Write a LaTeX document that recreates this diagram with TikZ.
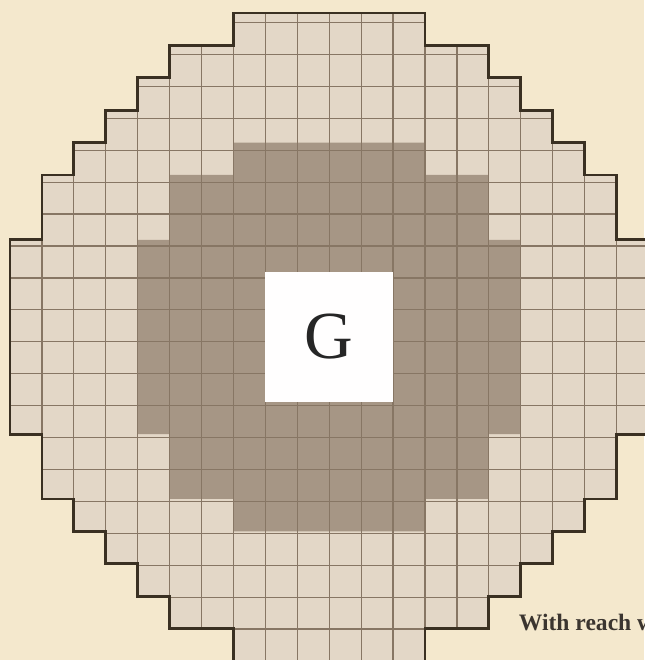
\documentclass[tikz,border=0pt]{standalone}
\usepackage{fontspec}
\setmainfont{Liberation Serif}

\definecolor{paper}{HTML}{F4E8CD}
\definecolor{lightcell}{HTML}{E3D7C7}
\definecolor{darkcell}{HTML}{A69685}
\definecolor{gridline}{HTML}{877664}
\definecolor{rimline}{HTML}{3A3022}
\definecolor{captext}{HTML}{3B3530}

% outline of the reach area, one unit per square
\newcommand{\reacharea}{(7,20) -- (13,20) -- (13,19) -- (15,19) -- (15,18) -- (16,18) -- (16,17) -- (17,17)
  -- (17,16) -- (18,16) -- (18,15) -- (19,15) -- (19,13) -- (20,13) -- (20,7) -- (19,7) -- (19,5)
  -- (18,5) -- (18,4) -- (17,4) -- (17,3) -- (16,3) -- (16,2) -- (15,2) -- (15,1) -- (13,1) -- (13,0)
  -- (7,0) -- (7,1) -- (5,1) -- (5,2) -- (4,2) -- (4,3) -- (3,3) -- (3,4) -- (2,4) -- (2,5) -- (1,5)
  -- (1,7) -- (0,7) -- (0,13) -- (1,13) -- (1,15) -- (2,15) -- (2,16) -- (3,16) -- (3,17) -- (4,17)
  -- (4,18) -- (5,18) -- (5,19) -- (7,19) -- cycle}

\begin{document}
\begin{tikzpicture}[x=1cm,y=1.015cm,
        rim/.style={draw=rimline,line width=2.4pt,line join=miter},
        goalbox/.style={fill=white!97!paper}]
        \useasboundingbox[fill=paper] (-0.313,0.03) rectangle (19.875,20.40);

        \fill[lightcell] \reacharea;
        \fill[darkcell] (7,16) -- (13,16) -- (13,15) -- (15,15) -- (15,13) -- (16,13) -- (16,7) -- (15,7)
                -- (15,5) -- (13,5) -- (13,4) -- (7,4) -- (7,5) -- (5,5) -- (5,7) -- (4,7) -- (4,13)
                -- (5,13) -- (5,15) -- (7,15) -- cycle;

        \begin{scope}
                \clip \reacharea;
                \draw[gridline,line width=1.1pt] (0,0) grid (20,20);
        \end{scope}

        \fill[goalbox] (8,8) rectangle (12,12);
        \node[font=\fontsize{60}{64}\selectfont,text=black!85] (goal) at (10,10) {G};

        \draw[rim] \reacharea;

        \node[anchor=base west,font=\bfseries\fontsize{21}{25}\selectfont,text=captext] (caption)
                at (15.82,0.93) {With reach w};
\end{tikzpicture}
\end{document}
